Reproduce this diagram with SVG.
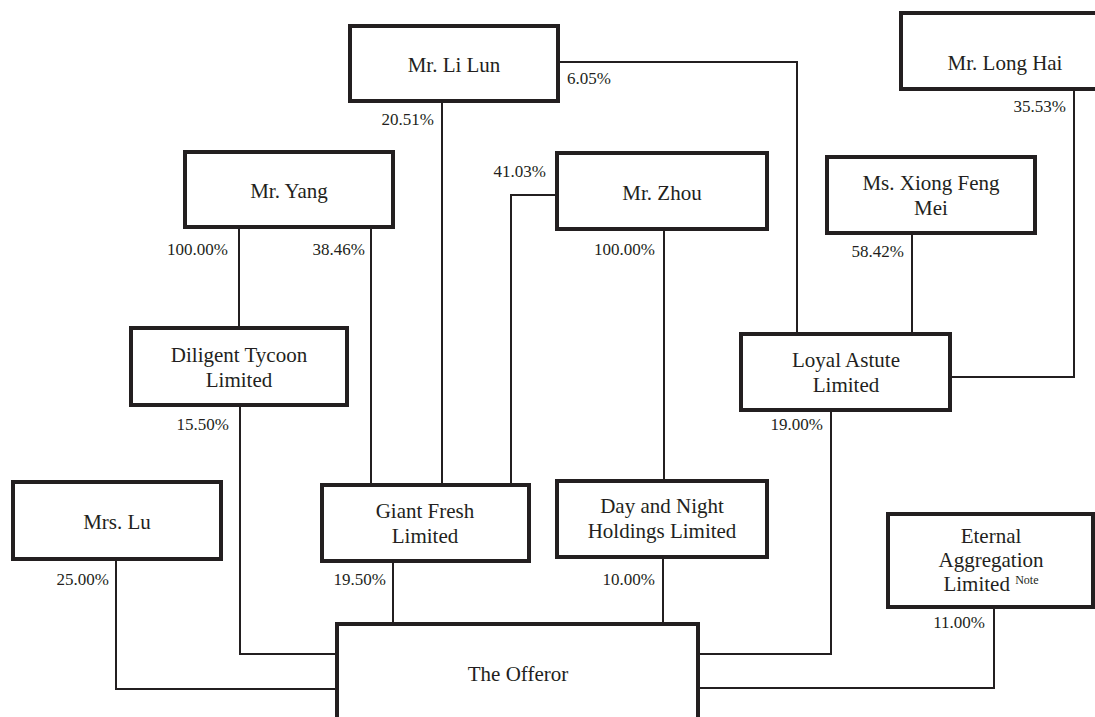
<svg xmlns="http://www.w3.org/2000/svg" width="1095" height="717" viewBox="0 0 1095 717">
<style>
.box{fill:#fff;stroke:#231f20;stroke-width:4}
.t{font-family:"Liberation Serif","Times New Roman",serif;font-size:21px;fill:#231f20;text-anchor:middle}
.p{font-family:"Liberation Serif","Times New Roman",serif;font-size:17px;fill:#231f20;text-anchor:end}
.sup{font-size:12px}
#connectors path{fill:none;stroke:#231f20;stroke-width:2}
</style>
<rect width="1095" height="717" fill="#fff"/>
<g id="connectors">
<path d="M558,62 H797 V334"/>
<path d="M442,101 V485"/>
<path d="M1074,89 V377 H950"/>
<path d="M239,227 V328"/>
<path d="M371,227 V485"/>
<path d="M557,195 H511 V485"/>
<path d="M664,229 V481"/>
<path d="M912,233 V334"/>
<path d="M240,405 V654 H337"/>
<path d="M116,559 V689 H337"/>
<path d="M393,561 V624"/>
<path d="M663,557 V624"/>
<path d="M831,410 V654 H698"/>
<path d="M994,607 V688 H698"/>
</g>
<g id="lilun"><rect class="box" x="350" y="26" width="208" height="75"/><text class="t" x="454" y="72">Mr. Li Lun</text></g>
<g id="longhai"><rect class="box" x="901" y="13" width="210" height="76"/><text class="t" x="1005" y="70">Mr. Long Hai</text></g>
<g id="yang"><rect class="box" x="185" y="152" width="208" height="75"/><text class="t" x="289" y="198">Mr. Yang</text></g>
<g id="zhou"><rect class="box" x="557" y="153" width="210" height="76"/><text class="t" x="662" y="200">Mr. Zhou</text></g>
<g id="xiong"><rect class="box" x="827" y="157" width="208" height="76"/><text class="t" x="931" y="190">Ms. Xiong Feng</text><text class="t" x="931" y="215">Mei</text></g>
<g id="diligent"><rect class="box" x="131" y="328" width="216" height="77"/><text class="t" x="239" y="362">Diligent Tycoon</text><text class="t" x="239" y="387">Limited</text></g>
<g id="loyal"><rect class="box" x="741" y="334" width="209" height="76"/><text class="t" x="846" y="367">Loyal Astute</text><text class="t" x="846" y="392">Limited</text></g>
<g id="lu"><rect class="box" x="13" y="482" width="208" height="77"/><text class="t" x="117" y="529">Mrs. Lu</text></g>
<g id="giant"><rect class="box" x="322" y="485" width="207" height="76"/><text class="t" x="425" y="518">Giant Fresh</text><text class="t" x="425" y="543">Limited</text></g>
<g id="daynight"><rect class="box" x="557" y="481" width="210" height="76"/><text class="t" x="662" y="513">Day and Night</text><text class="t" x="662" y="538">Holdings Limited</text></g>
<g id="eternal"><rect class="box" x="888" y="514" width="205" height="93"/><text class="t" x="991" y="543">Eternal</text><text class="t" x="991" y="567">Aggregation</text><text class="t" x="991" y="591">Limited <tspan class="sup" dy="-7">Note</tspan></text></g>
<g id="offeror"><path class="box" d="M337,720 V624 H698 V720"/><text class="t" x="518" y="681">The Offeror</text></g>
<g id="labels">
<text class="p" x="611" y="84">6.05%</text>
<text class="p" x="434" y="125">20.51%</text>
<text class="p" x="1066" y="112">35.53%</text>
<text class="p" x="546" y="177">41.03%</text>
<text class="p" x="228" y="255">100.00%</text>
<text class="p" x="365" y="255">38.46%</text>
<text class="p" x="655" y="255">100.00%</text>
<text class="p" x="904" y="257">58.42%</text>
<text class="p" x="229" y="430">15.50%</text>
<text class="p" x="823" y="430">19.00%</text>
<text class="p" x="109" y="585">25.00%</text>
<text class="p" x="386" y="585">19.50%</text>
<text class="p" x="655" y="585">10.00%</text>
<text class="p" x="985" y="628">11.00%</text>
</g>
</svg>
